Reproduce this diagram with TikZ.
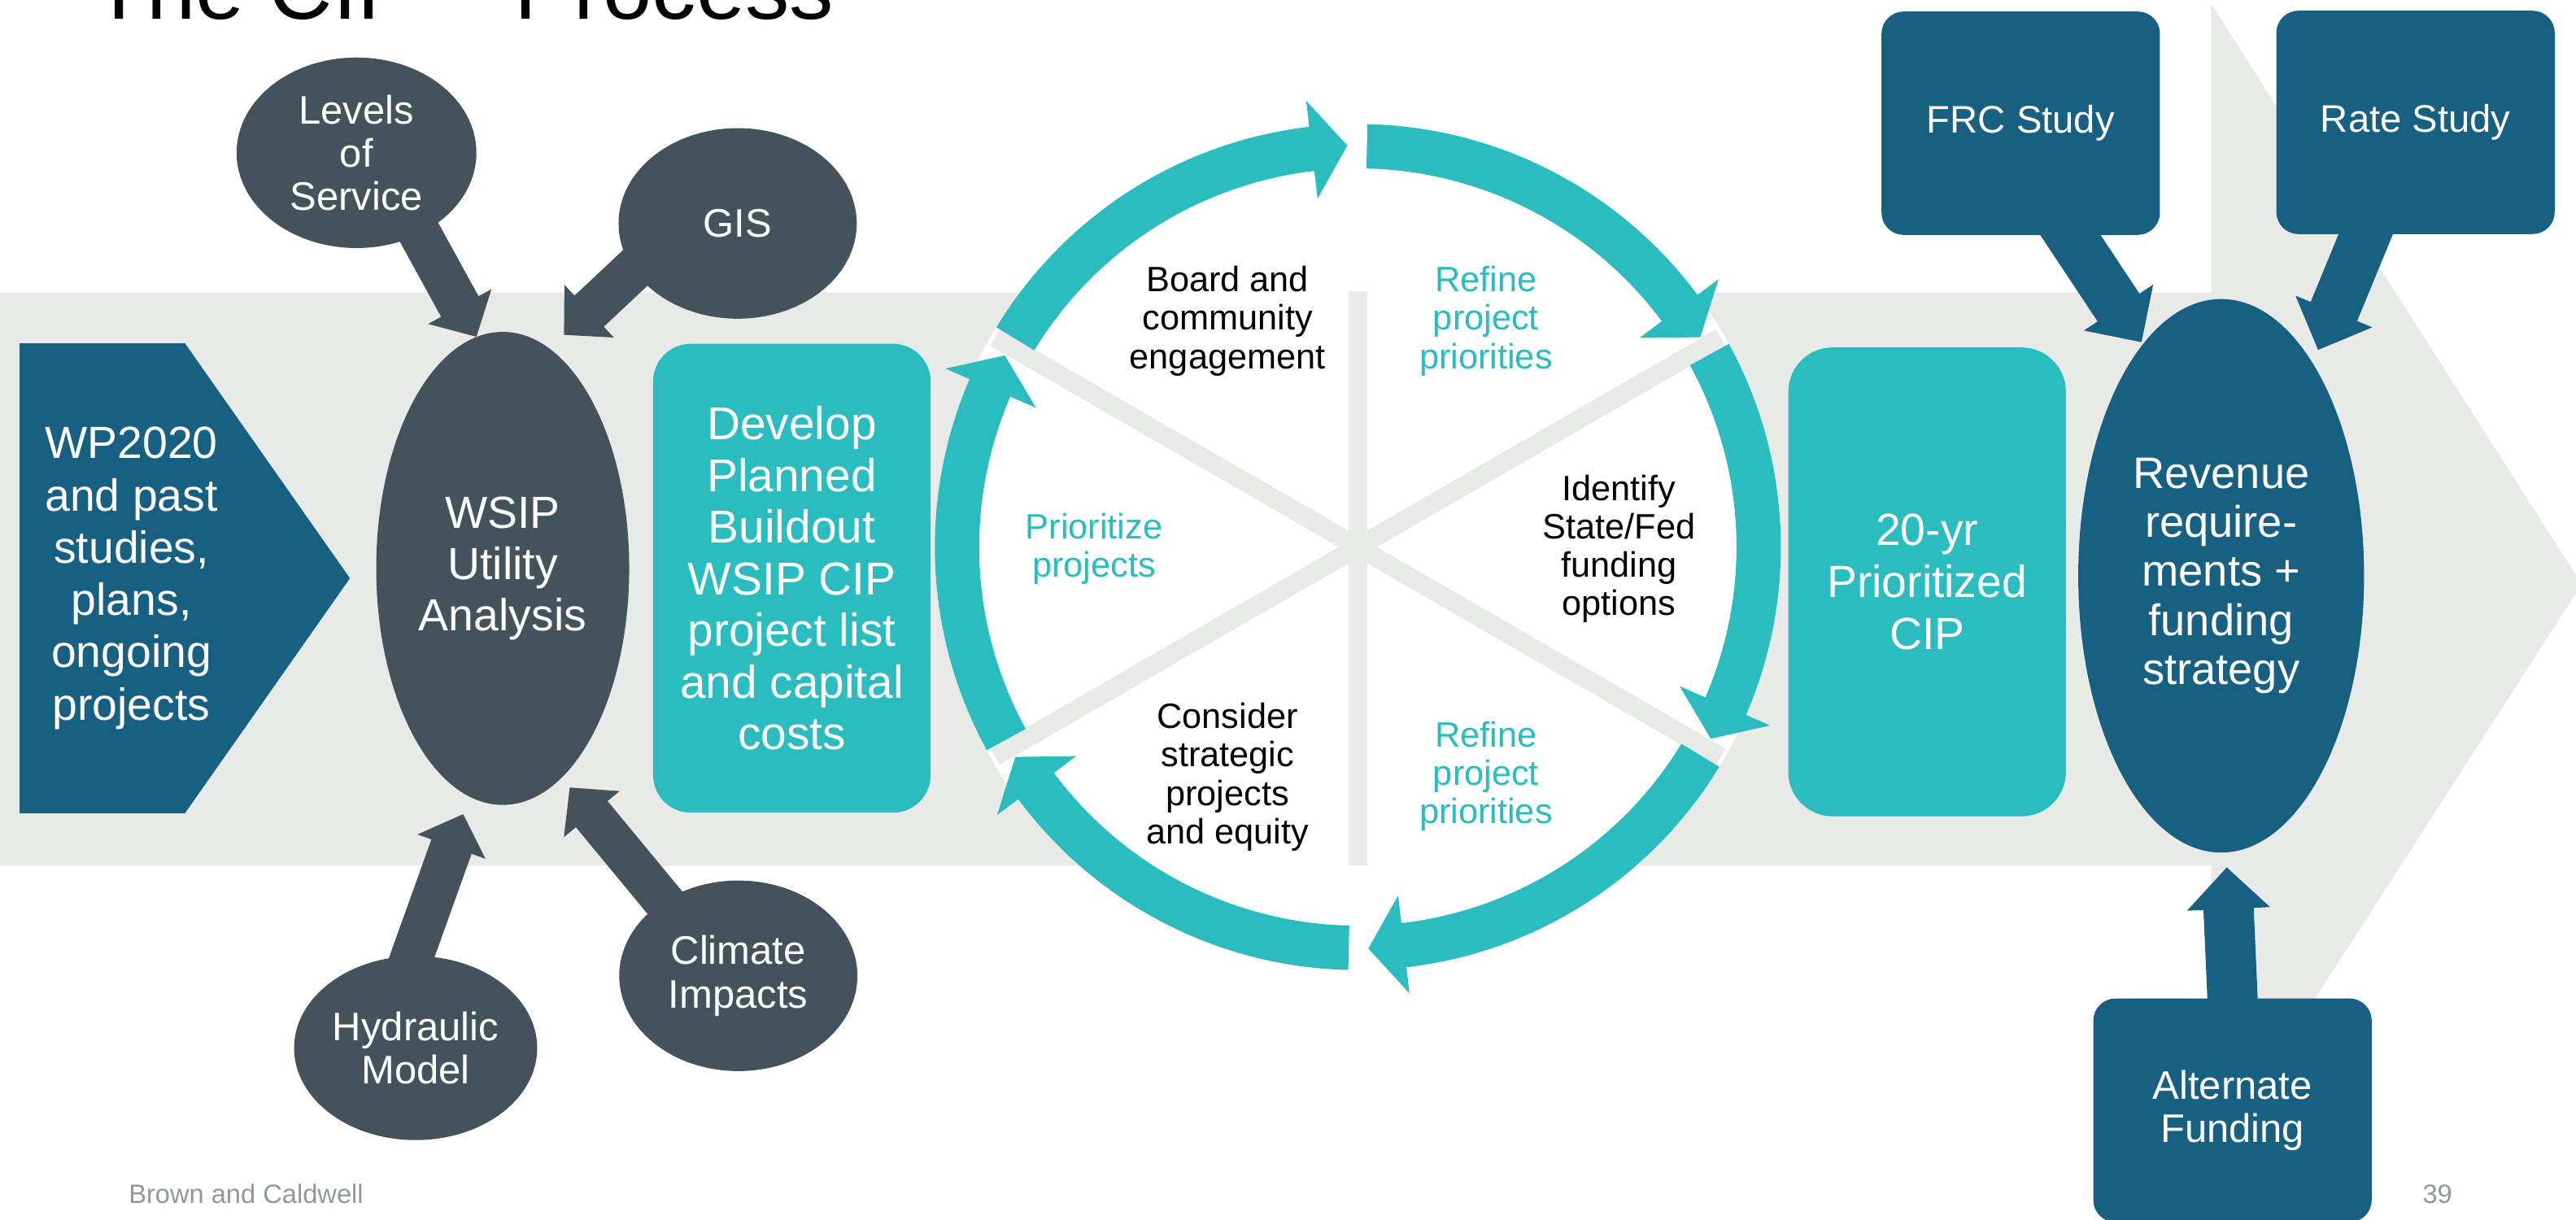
\documentclass[tikz,border=0pt]{standalone}
\usepackage{fontspec}
\setmainfont{Liberation Sans}
\usetikzlibrary{calc,shapes.geometric}
\definecolor{cipblue}{HTML}{186082}
\definecolor{slate}{HTML}{44525C}
\definecolor{cipteal}{HTML}{2ABCBE}
\definecolor{band}{HTML}{E8EAE7}
\definecolor{footgray}{HTML}{8E9A94}
\pgfdeclarelayer{backdrop}
\pgfdeclarelayer{links}
\pgfsetlayers{backdrop,links,main}

% block arrow: #1 fill, #2 start, #3 tip, #4 half shaft width, #5 half head width, #6 head length
\newcommand\blockarrow[6]{%
  \coordinate (ba-s) at (#2);
  \coordinate (ba-t) at (#3);
  \coordinate (ba-h) at ($(ba-t)!#6!(ba-s)$);
  \fill[#1] ($(ba-s)!#4!90:(ba-t)$) -- ($(ba-h)!#4!-90:(ba-s)$) -- ($(ba-h)!#5!-90:(ba-s)$)
    -- (ba-t) -- ($(ba-h)!#5!90:(ba-s)$) -- ($(ba-h)!#4!90:(ba-s)$) -- ($(ba-s)!#4!-90:(ba-t)$) -- cycle;
}

\begin{document}
\begin{tikzpicture}[x=0.02cm, y=-0.02cm,
  bubble/.style={ellipse, fill=slate, text=white, inner sep=0pt, align=center,
    font=\fontsize{13.8}{15}\selectfont},
  darkbox/.style={rectangle, rounded corners=0.27cm, fill=cipblue, text=white, inner sep=0pt,
    align=center, minimum width=3.39cm, minimum height=2.72cm, font=\fontsize{13.3}{15}\selectfont},
  tealbox/.style={rectangle, fill=cipteal, text=white, inner sep=0pt, align=center,
    minimum width=3.38cm, minimum height=5.71cm},
  cyc/.style={align=center, inner sep=0pt, font=\fontsize{12.2}{13.3}\selectfont},
  spoke/.style={draw=band, line width=0.23cm},
  ringseg/.style={fill=cipteal},
]
\useasboundingbox (0,0) rectangle (1568,742.2);
\clip (0,0) rectangle (1568,742.2);

\begin{pgfonlayer}{backdrop}
  % the long grey process arrow
  \fill[band] (0,178) -- (1346,178) -- (1346,2.4) -- (1571.5,355.6) -- (1346,706)
    -- (1346,527) -- (0,527) -- cycle;
  % review cycle: white disc, spokes, six clockwise ring arrows
  \begin{scope}[shift={(826.5,333)}, yscale=-1]
    \fill[white] (0,0) circle[radius=257.5];
    \fill[band] (-5.75,156) rectangle (5.75,-194);
    \draw[spoke] (150:255) -- (-30:255);
    \draw[spoke] (30:255) -- (210:255);
    \foreach \s in {90,30,-30,-90,-150,-210} {
      \pgfmathsetmacro\ao{\s-1.3}
      \pgfmathsetmacro\ah{\s-53.4}
      \pgfmathsetmacro\at{\s-58.5}
      \fill[ringseg] (\ao:257.5) arc[start angle=\ao, end angle=\ah, radius=257.5]
        -- (\ah:273.5) -- (\at:244.5) -- (\ah:213.5) -- (\ah:230.5)
        arc[start angle=\ah, end angle=\ao, radius=230.5] -- cycle;
    }
  \end{scope}
  % input pentagon
  \fill[cipblue] (12,209) -- (112.6,209) -- (213,352) -- (112.6,495) -- (12,495) -- cycle;
\end{pgfonlayer}

% title
\node[anchor=base west, inner sep=0pt, font=\fontsize{30.6}{36}\selectfont] (title) at (56,11.4) {The CIP – Process};

% inputs and analysis
\node[text=white, align=center, inner sep=0pt, font=\fontsize{15.6}{18.1}\selectfont] (WP) at (80,352)
  {WP2020\\and past\\studies,\\plans,\\ongoing\\projects};
\node[bubble, minimum width=3.08cm, minimum height=5.76cm, font=\fontsize{15.6}{17.8}\selectfont] (WSIP) at (306,346)
  {WSIP\\Utility\\Analysis};
\node[bubble, minimum width=2.92cm, minimum height=2.32cm] (Lev) at (217,93) {Levels\\of\\Service};
\node[bubble, minimum width=2.90cm, minimum height=2.32cm] (GIS) at (449,136) {GIS};
\node[bubble, minimum width=2.96cm, minimum height=2.24cm] (Hyd) at (253,638) {Hydraulic\\Model};
\node[bubble, minimum width=2.90cm, minimum height=2.32cm] (Cli) at (449.4,594) {Climate\\Impacts};

\node[tealbox, rounded corners=0.46cm, font=\fontsize{16}{17.9}\selectfont] (Dev) at (482,352)
  {Develop\\Planned\\Buildout\\WSIP CIP\\project list\\and capital\\costs};

% cycle labels
\node[cyc] (c1) at (747.2,195.4) {Board and\\community\\engagement};
\node[cyc, text=cipteal] (c2) at (904.5,195.4) {Refine\\project\\priorities};
\node[cyc] (c3) at (985.4,334) {Identify\\State/Fed\\funding\\options};
\node[cyc, text=cipteal] (c4) at (904.5,472.5) {Refine\\project\\priorities};
\node[cyc] (c5) at (747.2,473) {Consider\\strategic\\projects\\and equity};
\node[cyc, text=cipteal] (c6) at (665.9,334) {Prioritize\\projects};

% outputs and funding
\node[tealbox, rounded corners=0.54cm, font=\fontsize{15.6}{18.1}\selectfont] (CIP) at (1173,354.2)
  {20-yr\\Prioritized\\CIP};
\node[ellipse, fill=cipblue, text=white, inner sep=0pt, align=center, minimum width=3.48cm,
  minimum height=6.74cm, font=\fontsize{15.3}{17}\selectfont] (Rev) at (1352,350.5)
  {Revenue\\require-\\ments +\\funding\\strategy};
\node[darkbox] (FRC) at (1230,75) {FRC Study};
\node[darkbox] (Rate) at (1470.3,74.5) {Rate Study};
\node[darkbox, minimum height=2.724cm, font=\fontsize{13.8}{14.9}\selectfont] (Alt) at (1358.9,675.9)
  {Alternate\\Funding};

% footer
\node[anchor=base west, inner sep=0pt, text=footgray, font=\fontsize{9.2}{11}\selectfont] (foot) at (78,732.7)
  {Brown and Caldwell};
\node[anchor=base east, inner sep=0pt, text=footgray, font=\fontsize{9.2}{11}\selectfont] (page) at (1493,732.7) {39};

% arrow tips
\coordinate (tLev) at (290,205);
\coordinate (tGIS) at (343.3,203.8);
\coordinate (tHyd) at (281.9,495.6);
\coordinate (tCli) at (346.8,479.4);
\coordinate (tFRC) at (1303.5,208.3);
\coordinate (tRate) at (1411,213);
\coordinate (tAlt) at (1355.4,528);

\begin{pgfonlayer}{links}
  \blockarrow{slate}{$(tLev)!1.25!(Lev.308)$}{tLev}{0.26cm}{0.44cm}{0.42cm}
  \blockarrow{slate}{$(tGIS)!1.25!(GIS.204)$}{tGIS}{0.26cm}{0.44cm}{0.42cm}
  \blockarrow{slate}{$(tHyd)!1.25!(Hyd.92)$}{tHyd}{0.26cm}{0.44cm}{0.42cm}
  \blockarrow{slate}{$(tCli)!1.25!(Cli.135)$}{tCli}{0.25cm}{0.44cm}{0.42cm}
  \blockarrow{cipblue}{$(tFRC)!1.3!(FRC.294)$}{tFRC}{0.306cm}{0.506cm}{0.506cm}
  \blockarrow{cipblue}{$(tRate)!1.3!(Rate.246)$}{tRate}{0.306cm}{0.506cm}{0.506cm}
  \blockarrow{cipblue}{$(tAlt)!1.25!(Alt.north)$}{tAlt}{0.306cm}{0.506cm}{0.506cm}
\end{pgfonlayer}
\end{tikzpicture}
\end{document}
